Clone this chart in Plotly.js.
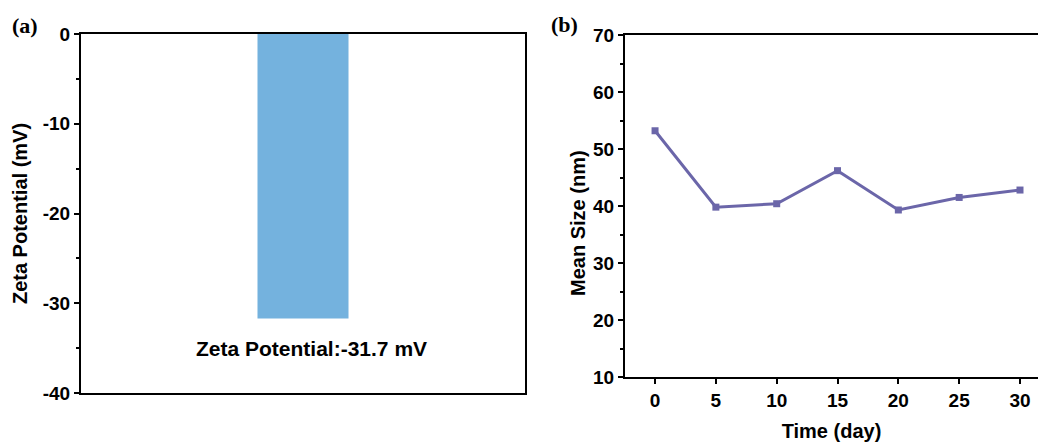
<!DOCTYPE html>
<html>
<head>
<meta charset="utf-8">
<script src="https://cdn.plot.ly/plotly-3.0.1.min.js"></script>
<style>html,body{margin:0;padding:0;background:#fff;}#chart{width:1038px;height:445px;}</style>
</head>
<body>
<div id="chart"></div>
<script>
// Panel (a): zeta potential
const zetaCategory = ["Zeta"];
const zetaValues = [-31.7];
const zetaLabel = "Zeta Potential:-31.7 mV";
const zetaTicks = [0, -10, -20, -30, -40];
const zetaTickText = ["0", "-10", "-20", "-30", "-40"];

// Panel (b): mean size over time
const timeDays = [0, 5, 10, 15, 20, 25, 30];
const meanSize = [53.2, 39.8, 40.4, 46.2, 39.3, 41.5, 42.8];
const sizeTicks = [10, 20, 30, 40, 50, 60, 70];

const FONT = "Liberation Sans, Arial, sans-serif";
const tickFont = {family: FONT, size: 19, color: "#000"};
const titleFont = {family: FONT, size: 20, color: "#000"};
const b = s => "<b>" + s + "</b>";

const traces = [
  {
    type: "bar",
    x: [0],
    y: zetaValues,
    width: 0.205,
    marker: {color: "#74b2de", line: {width: 0}},
    xaxis: "x", yaxis: "y",
    hoverinfo: "skip",
    name: zetaCategory[0]
  },
  {
    type: "scatter",
    mode: "lines+markers",
    x: timeDays,
    y: meanSize,
    line: {color: "#6b66a9", width: 3},
    marker: {symbol: "square", size: 7, color: "#6b66a9"},
    xaxis: "x2", yaxis: "y2",
    hoverinfo: "skip"
  }
];

const W = 1038, H = 445;
const layout = {
  width: W, height: H,
  margin: {l: 0, r: 0, t: 0, b: 0},
  paper_bgcolor: "#fff",
  plot_bgcolor: "#fff",
  showlegend: false,
  xaxis: {
    domain: [81 / W, 525 / W],
    range: [-0.5, 0.5],
    showticklabels: false,
    ticks: "",
    showgrid: false, zeroline: false,
    showline: true, linecolor: "#000", linewidth: 2, mirror: true,
    anchor: "y"
  },
  yaxis: {
    domain: [1 - 393 / H, 1 - 34 / H],
    range: [-40, 0],
    tickvals: zetaTicks,
    ticktext: zetaTickText.map(b),
    ticks: "outside", ticklen: 5, tickwidth: 2, tickcolor: "#000",
    minor: {tickvals: [-5, -15, -25, -35], ticks: "outside", ticklen: 3, tickwidth: 2, tickcolor: "#000"},
    tickfont: tickFont,
    showgrid: false, zeroline: false,
    showline: true, linecolor: "#000", linewidth: 2, mirror: true,
    title: {text: b("Zeta Potential (mV)"), font: titleFont, standoff: 10},
    anchor: "x"
  },
  xaxis2: {
    domain: [625 / W, 1],
    range: [-2.47, 31.48],
    tickvals: timeDays,
    ticktext: timeDays.map(v => b(String(v))),
    ticks: "outside", ticklen: 5, tickwidth: 2, tickcolor: "#000",
    tickfont: tickFont,
    showgrid: false, zeroline: false,
    showline: true, linecolor: "#000", linewidth: 2, mirror: true,
    title: {text: b("Time (day)"), font: titleFont, standoff: 14},
    anchor: "y2"
  },
  yaxis2: {
    domain: [1 - 377 / H, 1 - 35 / H],
    range: [10, 70],
    tickvals: sizeTicks,
    ticktext: sizeTicks.map(v => b(String(v))),
    ticks: "outside", ticklen: 5, tickwidth: 2, tickcolor: "#000",
    minor: {tickvals: [15, 25, 35, 45, 55, 65], ticks: "outside", ticklen: 3, tickwidth: 2, tickcolor: "#000"},
    tickfont: tickFont,
    showgrid: false, zeroline: false,
    showline: true, linecolor: "#000", linewidth: 2, mirror: false,
    anchor: "x2"
  },
  annotations: [
    {
      xref: "x", yref: "y", x: 0.02, y: -35.05,
      text: b(zetaLabel), showarrow: false,
      font: {family: FONT, size: 21, color: "#000"},
      xanchor: "center", yanchor: "middle"
    },
    {
      xref: "paper", yref: "paper", x: 578 / W, y: 1 - 223 / H,
      text: b("Mean Size (nm)"), showarrow: false, textangle: -90,
      font: titleFont,
      xanchor: "center", yanchor: "middle"
    },
    {
      xref: "paper", yref: "paper", x: 10 / W, y: 1 - 25 / H,
      text: b("(a)"), showarrow: false,
      font: {family: "Liberation Serif, Times New Roman, serif", size: 22, color: "#000"},
      xanchor: "left", yanchor: "middle"
    },
    {
      xref: "paper", yref: "paper", x: 549 / W, y: 1 - 24 / H,
      text: b("(b)"), showarrow: false,
      font: {family: "Liberation Serif, Times New Roman, serif", size: 22, color: "#000"},
      xanchor: "left", yanchor: "middle"
    }
  ]
};

Plotly.newPlot("chart", traces, layout, {staticPlot: true, displayModeBar: false});
</script>
</body>
</html>
